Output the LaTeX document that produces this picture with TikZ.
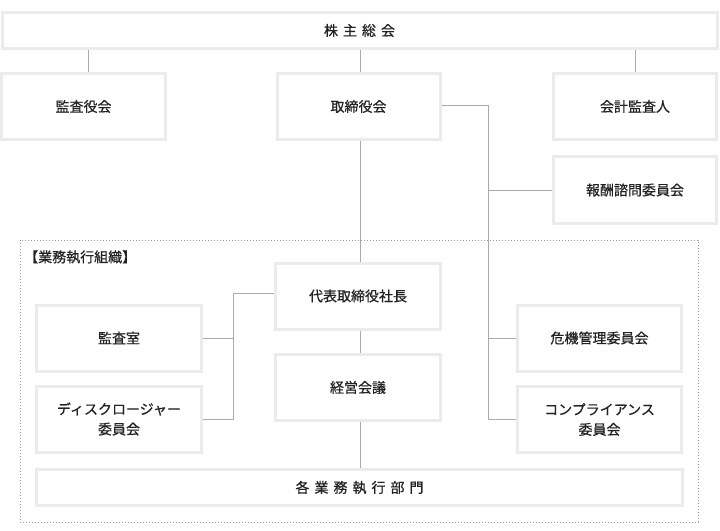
\documentclass[tikz,border=0pt]{standalone}
\usepackage{fontspec}
\setmainfont{Noto Sans CJK JP}[FakeBold=0.6]
\definecolor{boxline}{HTML}{EBEBEB}
\definecolor{conn}{HTML}{AAAAAA}
\definecolor{txt}{HTML}{222222}
\definecolor{dotc}{HTML}{999999}
\begin{document}
\begin{tikzpicture}[x=1pt,y=-1pt,
  orgbox/.style={draw=boxline, line width=3pt, fill=white, text=txt,
    inner sep=0pt, align=center,
    font=\fontsize{14}{20}\selectfont},
  stdbox/.style={orgbox, minimum width=165pt, minimum height=66pt},
  flat/.style={orgbox, minimum height=36pt},
  link/.style={draw=conn, line width=1pt},
  frame/.style={draw=dotc, line width=1pt, dash pattern=on 1pt off 2pt}]
\useasboundingbox (0,0) rectangle (720,530);
\fill[white] (0,0) rectangle (720,530);

% container
\draw[frame] (20,240) rectangle (698,522);
\node[anchor=west, text=txt, inner sep=0pt, font=\fontsize{14}{16}\selectfont] (lbl) at (24,257) {【業務執行組織】};

% boxes
\node[flat, minimum width=715pt] (sh) at (359.5,30.5) {株\hspace{5pt}主\hspace{5pt}総\hspace{5pt}会};
\node[stdbox, minimum width=164pt] (kan) at (83.5,106.5) {監査役会};
\node[stdbox, minimum width=163pt] (tor) at (358.5,106.5) {取締役会};
\node[stdbox, minimum width=163pt] (kai) at (635,106.5) {会計監査人};
\node[stdbox, minimum width=163pt, minimum height=67pt] (hou) at (635,190) {報酬諮問委員会};

\node[stdbox] (dai) at (358,296) {代表取締役社長};
\node[stdbox] (kei) at (358,387.5) {経営会議};
\node[stdbox] (kss) at (119,338) {監査室};
\node[stdbox] (dis) at (119,419) {ディスクロージャー\\委員会};
\node[stdbox, minimum width=164pt] (kik) at (599.5,338) {危機管理委員会};
\node[stdbox, minimum width=164pt] (com) at (599.5,419.5) {コンプライアンス\\委員会};
\node[flat, minimum width=646pt] (kak) at (359.5,487.5) {各\hspace{5pt}業\hspace{5pt}務\hspace{5pt}執\hspace{5pt}行\hspace{5pt}部\hspace{5pt}門};

% connectors
\draw[link] (sh.south -| 88,0) -- (kan.north -| 88,0);
\draw[link] (sh.south -| 360,0) -- (tor.north -| 360,0);
\draw[link] (sh.south -| 635,0) -- (kai.north -| 635,0);
\draw[link] (tor.south -| 360,0) -- (dai.north -| 360,0);
\draw[link] (dai.south -| 360,0) -- (kei.north -| 360,0);
\draw[link] (kei.south -| 360,0) -- (kak.north -| 360,0);

\coordinate (rb) at (488,105);
\draw[link] (tor.east |- rb) -- (rb) -- (rb |- com.west) -- (com.west);
\draw[link] (rb |- hou.west) -- (hou.west);
\draw[link] (rb |- kik.west) -- (kik.west);

\coordinate (lb) at (233,293);
\draw[link] (dai.west |- lb) -- (lb) -- (lb |- dis.east) -- (dis.east);
\draw[link] (lb |- kss.east) -- (kss.east);
\end{tikzpicture}
\end{document}
